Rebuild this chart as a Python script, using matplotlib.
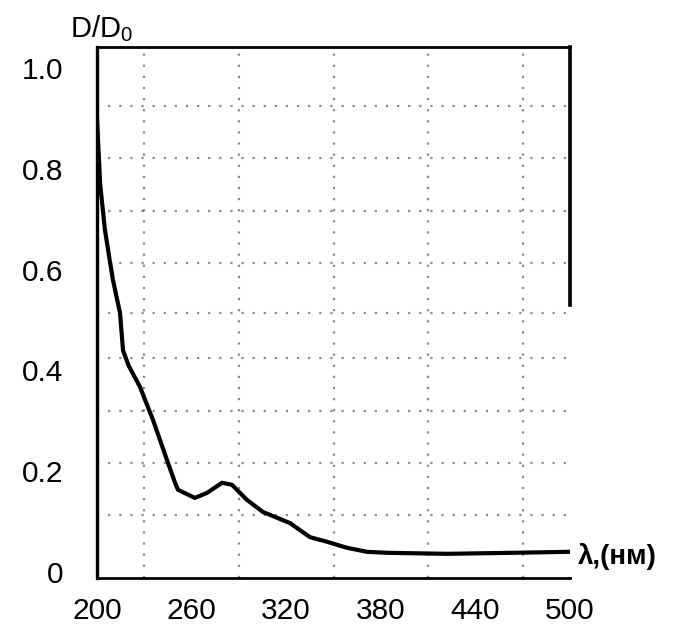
import numpy as np
import matplotlib
matplotlib.use("Agg")
import matplotlib.pyplot as plt

plt.rcParams['font.family'] = ['Liberation Sans', 'DejaVu Sans']
plt.rcParams['mathtext.fontset'] = 'custom'
plt.rcParams['mathtext.rm'] = 'Liberation Sans'
plt.rcParams['mathtext.it'] = 'Liberation Sans'

# absorption spectrum
wavelength = [200, 202, 205, 208, 210.1, 214.6, 216.5, 220, 227.3, 235.5, 244.4,
              249.5, 251.4, 262.1, 269.8, 279.3, 285.6, 295.1, 305.3, 322.4, 335.1,
              345.8, 358.5, 371.2, 383.9, 421.9, 463.8, 500]
d_ratio = [0.90, 0.77, 0.68, 0.62, 0.58, 0.514, 0.44, 0.41, 0.367, 0.302, 0.222,
           0.177, 0.163, 0.147, 0.157, 0.177, 0.173, 0.143, 0.119, 0.097, 0.069,
           0.060, 0.048, 0.040, 0.038, 0.036, 0.038, 0.040]

x_ticks = [200, 260, 320, 380, 440, 500]
y_ticks = [0, 0.2, 0.4, 0.6, 0.8, 1.0]
y_labels = ["0", "0.2", "0.4", "0.6", "0.8", "1.0"]

fig = plt.figure(figsize=(6.97, 6.26), dpi=100)
ax = fig.add_axes([97/697, 1 - 578/626, 473/697, 531/626])

ax.plot(wavelength, d_ratio, color='black', lw=3.0, solid_joinstyle='round')

ax.set_xlim(200, 500)
ax.set_ylim(-0.012, 1.042)
ax.set_xticks(x_ticks)
ax.set_xticklabels([str(t) for t in x_ticks])
ax.set_yticks(y_ticks)
ax.set_yticklabels(y_labels)
ax.tick_params(axis='both', length=0, labelsize=21.5)
ax.tick_params(axis='y', pad=24)
ax.tick_params(axis='x', pad=14)

# faint dotted graph-paper grid from the scan
ax.set_xticks(np.arange(230, 500, 30), minor=True)
ax.set_yticks([0.113, 0.216, 0.32, 0.424, 0.515, 0.614, 0.717, 0.822, 0.925], minor=True)
ax.tick_params(which='minor', length=0)
ax.grid(which='minor', color='black', alpha=0.45, lw=1.6, linestyle=(0, (1, 4)))

for side in ['left', 'bottom', 'top', 'right']:
    ax.spines[side].set_color('black')
ax.spines['left'].set_linewidth(2.4)
ax.spines['bottom'].set_linewidth(2.0)
ax.spines['top'].set_linewidth(2.0)
ax.spines['right'].set_linewidth(2.6)
ax.spines['right'].set_bounds(0.53, 1.042)

fig.text(70/697, 1 - 37/626, r'D/D$_0$', fontsize=21, va='baseline', ha='left')
fig.text(578/697, 1 - 556/626, 'λ,(нм)', fontsize=20, fontweight='bold',
         va='center', ha='left')

fig.savefig('out.png', dpi=100)
